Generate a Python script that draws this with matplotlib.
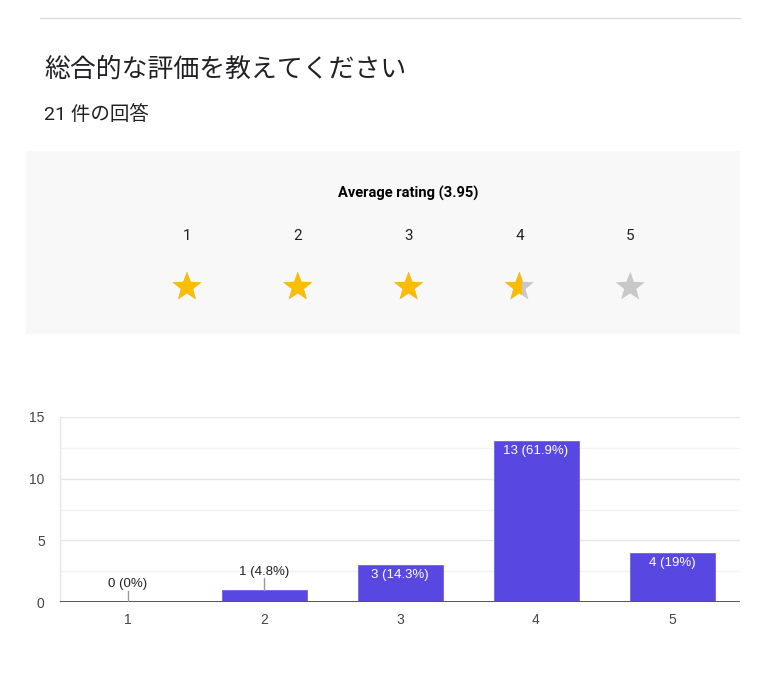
import matplotlib
matplotlib.use("Agg")
import matplotlib.pyplot as plt
import numpy as np
from matplotlib.patches import Polygon, Rectangle

plt.rcParams['font.family'] = ['Roboto', 'Noto Sans CJK JP', 'DejaVu Sans']

# ---- data ----
title = "総合的な評価を教えてください"
subtitle = "21 件の回答"
avg_label = "Average rating (3.95)"
star_labels = ["1", "2", "3", "4", "5"]
star_fill = [1.0, 1.0, 1.0, 0.6, 0.0]
categories = ["1", "2", "3", "4", "5"]
counts = [0, 1, 3, 13, 4]
bar_labels = ["0 (0%)", "1 (4.8%)", "3 (14.3%)", "13 (61.9%)", "4 (19%)"]
yticks = [0, 5, 10, 15]

W, H = 760, 690
fig = plt.figure(figsize=(W / 100, H / 100), dpi=100)
fig.patch.set_facecolor('white')

# overlay axes in pixel coordinates
bg = fig.add_axes([0, 0, 1, 1])
bg.set_xlim(0, W)
bg.set_ylim(H, 0)
bg.axis('off')

bg.plot([40, 740], [18, 18], color='#dadce0', lw=1)
bg.text(44, 70, title, fontsize=18.6, color='#202124', va='center', ha='left',
        family=['Roboto', 'Noto Sans CJK JP'])
bg.text(44, 115, subtitle, fontsize=14, color='#202124', va='center', ha='left',
        family=['Roboto', 'Noto Sans CJK JP'])

bg.add_patch(Rectangle((26, 151), 714, 183, facecolor='#f8f8f8', edgecolor='none'))
bg.text(408, 193, avg_label, fontsize=10.5, fontweight='bold', color='#000000',
        ha='center', va='center')

def star_pts(cx, cy, R, r):
    pts = []
    for i in range(10):
        ang = np.pi / 2 + i * np.pi / 5
        rad = R if i % 2 == 0 else r
        pts.append((cx + rad * np.cos(ang), cy - rad * np.sin(ang)))
    return pts

star_x0, star_dx = 187, 110.8
R = 15.3
for i, (lab, f) in enumerate(zip(star_labels, star_fill)):
    cx = star_x0 + i * star_dx
    bg.text(cx, 236.5, lab, fontsize=11, color='#202124', ha='center', va='center')
    pts = star_pts(cx, 287, R, R * 0.42)
    bg.add_patch(Polygon(pts, closed=True, facecolor='#c8c8c8', edgecolor='none'))
    if f > 0:
        gold = Polygon(pts, closed=True, facecolor='#fbbc04', edgecolor='none')
        bg.add_patch(gold)
        if f < 1:
            left = cx - R
            clip = Rectangle((left, 287 - R - 2), 2 * R * f, 2 * R + 4,
                             transform=bg.transData, facecolor='none', edgecolor='none')
            bg.add_patch(clip)
            gold.set_clip_path(clip)

# ---- bar chart ----
ax_l, ax_r, ax_t, ax_b = 60, 740, 416.7, 602.3
ax = fig.add_axes([ax_l / W, 1 - ax_b / H, (ax_r - ax_l) / W, (ax_b - ax_t) / H])
ax.set_facecolor('white')
x = np.arange(1, len(categories) + 1)
ax.set_xlim(0.5, len(categories) + 0.5)
ax.set_ylim(0, 15)

for yv in np.arange(2.5, 15.1, 2.5):
    major = abs(yv % 5) < 1e-9
    ax.axhline(yv, color='#e6e6e6' if major else '#f2f2f2', lw=1, zorder=0)

ax.bar(x, counts, width=0.625, color='#5847e0', edgecolor='#6f61e8', linewidth=0.6, zorder=2)
ax.axhline(0, color='#555555', lw=1.4, zorder=3)

for sp in ['top', 'right', 'bottom']:
    ax.spines[sp].set_visible(False)
ax.spines['left'].set_color('#e6e6e6')
ax.spines['left'].set_linewidth(1)

ax.set_xticks(x)
ax.set_xticklabels(categories)
ax.set_yticks(yticks)
ax.tick_params(axis='both', length=0, labelsize=10, labelcolor='#444444')
ax.tick_params(axis='x', pad=8)
ax.tick_params(axis='y', pad=11)
for lbl in ax.get_xticklabels() + ax.get_yticklabels():
    lbl.set_family(['Liberation Sans', 'DejaVu Sans'])

for xi, c, lab in zip(x, counts, bar_labels):
    if c >= 3:
        ax.annotate(lab, (xi, c), xytext=(0, -7), textcoords='offset points',
                    ha='center', va='center', color='white', fontsize=9.5,
                    family=['Liberation Sans', 'DejaVu Sans'], zorder=4)
    else:
        ax.plot([xi, xi], [c, c + 0.95], color='#999999', lw=1, zorder=4)
        ax.annotate(lab, (xi, c + 0.95), xytext=(0, 4.5), textcoords='offset points',
                    ha='center', va='center', color='#222222', fontsize=9.5,
                    family=['Liberation Sans', 'DejaVu Sans'], zorder=4)

fig.savefig('out.png', dpi=100, facecolor='white')
